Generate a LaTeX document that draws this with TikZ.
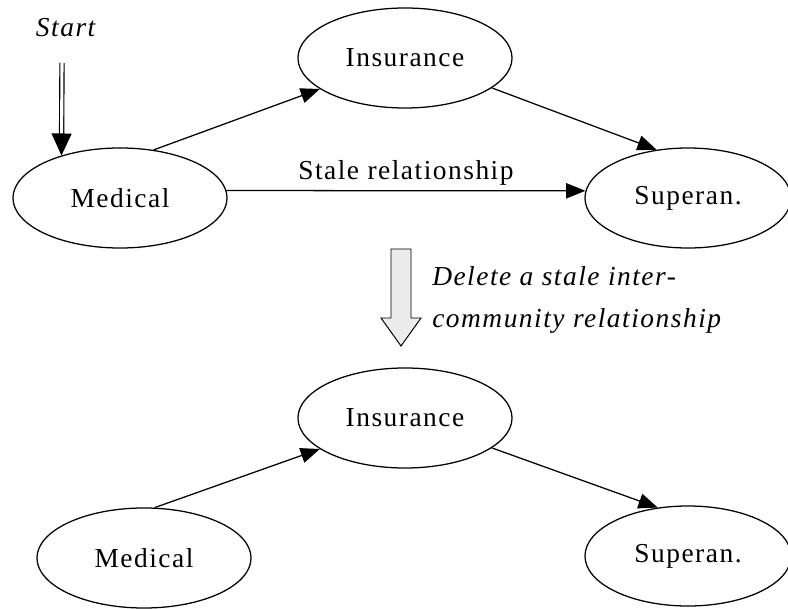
\documentclass[tikz,border=0pt]{standalone}
\usepackage{fontspec}
\setmainfont{Liberation Serif}[LetterSpace=5.5]
\usetikzlibrary{arrows.meta,shapes.geometric,positioning}
\tikzstyle{community} = [ellipse, draw, line width=0.9pt,
minimum width=5.35cm, minimum height=2.5cm, inner sep=0pt]
\tikzstyle{arrow} = [-{Triangle[length=0.48cm,width=0.38cm]}, line width=0.9pt]
\tikzstyle{startarrow} = [-{Triangle[length=0.55cm,width=0.5cm]}, line width=0.8pt,
double, double distance=2.2pt]

\begin{document}
\begin{tikzpicture}[x=0.025cm,y=-0.025cm,font=\fontsize{19.5}{23}\selectfont]
\useasboundingbox (0,0) rectangle (788,609);
% before
\node[community] (med1) at (120,198) {Medical\hspace{0.6cm}};
\node[community] (ins1) at (405,58) {Insurance};
\node[community, minimum width=5.15cm] (sup1) at (688,198) {Superan.};
\node[anchor=base west, font=\fontsize{19.5}{23}\selectfont\itshape] (start) at (31,37) {Start};
\coordinate (entry) at (62,63);
\draw[startarrow] (entry) -- (med1.144);
\draw[arrow] (med1.55) -- (ins1.200);
\draw[arrow] (ins1.341) -- (sup1.123);
\draw[arrow] (med1.4) -- node[above] {Stale relationship} (sup1.176);
% the step
\draw[line width=0.7pt, fill=gray!15] (391,249) -- (411,249) -- (411,318) -- (421,318)
  -- (401,346) -- (381,318) -- (391,318) -- cycle;
\node[anchor=base west, align=left, inner sep=0pt,
  font=\fontsize{19.5}{30}\selectfont\itshape] (del) at (432,328)
  {Delete a stale inter-\\community relationship};
% after
\node[community] (med2) at (144,558) {Medical\hspace{0.6cm}};
\node[community] (ins2) at (405,418) {Insurance};
\node[community, minimum width=5.15cm] (sup2) at (688,556) {Superan.};
\draw[arrow] (med2.78) -- (ins2.200);
\draw[arrow] (ins2.341) -- (sup2.122);
\end{tikzpicture}
\end{document}
